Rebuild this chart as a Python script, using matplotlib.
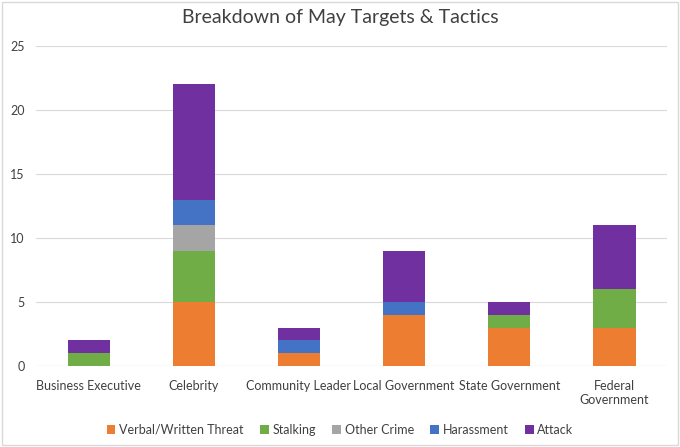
import matplotlib
matplotlib.use("Agg")
import matplotlib.pyplot as plt
from matplotlib.patches import Rectangle
import numpy as np

categories = ["Business Executive", "Celebrity", "Community Leader",
              "Local Government", "State Government", "Federal\nGovernment"]
verbal = [0, 5, 1, 4, 3, 3]
stalking = [1, 4, 0, 0, 1, 3]
other = [0, 2, 0, 0, 0, 0]
harassment = [0, 2, 1, 1, 0, 0]
attack = [1, 9, 1, 4, 1, 5]
series_names = ["Verbal/Written Threat", "Stalking", "Other Crime", "Harassment", "Attack"]
colors = ["#ED7D31", "#70AD47", "#A5A5A5", "#4472C4", "#7030A0"]
yticks = [0, 5, 10, 15, 20, 25]

plt.rcParams['font.family'] = ['Lato', 'DejaVu Sans']

fig = plt.figure(figsize=(6.8, 4.47), dpi=100)
ax = fig.add_axes([0.053, 0.181, 0.928, 0.716])

x = np.arange(len(categories))
bottom = np.zeros(len(categories))
for vals, name, c in zip([verbal, stalking, other, harassment, attack], series_names, colors):
    ax.bar(x, vals, 0.4, bottom=bottom, color=c, label=name, zorder=3)
    bottom += np.array(vals)

ax.set_xlim(-0.5, len(categories) - 0.5)
ax.set_ylim(0, 25)
ax.set_yticks(yticks)
ax.set_xticks(x)
ax.set_xticklabels(categories, fontsize=9, color="#404040")
ax.tick_params(axis='y', labelsize=9, labelcolor="#404040", length=0, pad=8)
ax.tick_params(axis='x', length=0, pad=10)
ax.grid(axis='y', color="#D9D9D9", linewidth=0.8, zorder=0)
for s in ax.spines.values():
    s.set_visible(False)
ax.axhline(0, color="#D9D9D9", linewidth=0.8, zorder=2)

fig.suptitle("Breakdown of May Targets & Tactics", y=0.98, fontsize=14, color="#404040")

fig.legend(loc="lower center", bbox_to_anchor=(0.5, 0.0), ncol=5, frameon=False,
           fontsize=9, labelcolor="#404040", handlelength=0.7, handleheight=0.7,
           handletextpad=0.3, columnspacing=1.3)

fig.patches.append(Rectangle((0.003, 0.004), 0.994, 0.992, transform=fig.transFigure,
                             fill=False, edgecolor="#D9D9D9", linewidth=1))

fig.savefig("out.png", dpi=100)
